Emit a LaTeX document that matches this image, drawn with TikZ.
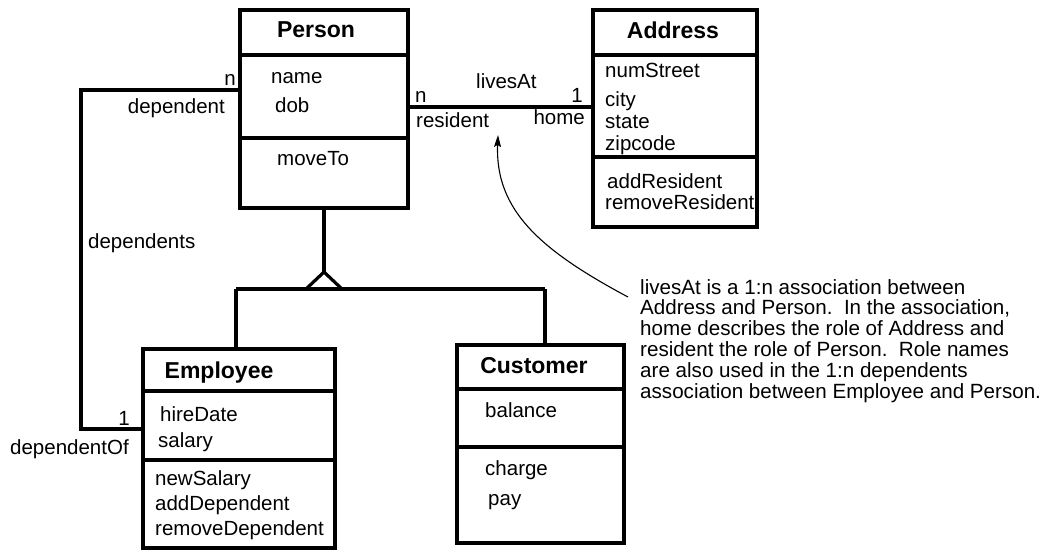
\documentclass[tikz,border=0pt]{standalone}
\usepackage{fontspec}
\setmainfont{Liberation Sans}
\usetikzlibrary{arrows.meta}
\begin{document}
\begin{tikzpicture}[x=1pt,y=-1pt,
  umlbox/.style={draw, line width=3.2pt, inner sep=0pt},
  thick line/.style={line width=3.2pt},
  txt/.style={anchor=base west, inner sep=0pt, font=\fontsize{20.5}{24}\selectfont},
  rtxt/.style={anchor=base east, inner sep=0pt, font=\fontsize{20.5}{24}\selectfont},
  ttl/.style={anchor=base, inner sep=0pt, font=\fontsize{23}{26}\selectfont\bfseries},
  note/.style={anchor=north west, inner sep=0pt, align=left, font=\fontsize{20.6}{20.8}\selectfont}]
\useasboundingbox (0,0) rectangle (1047,550);

% Person
\node[umlbox, minimum width=168pt, minimum height=198pt] (person) at (324,109) {};
\draw[thick line] (person.west |- 0,55) -- (person.east |- 0,55);
\draw[thick line] (person.west |- 0,138) -- (person.east |- 0,138);
\node[ttl] (tperson) at (316,37) {Person};
\node[txt] (pname) at (271,83) {name};
\node[txt] (pdob) at (275,112) {dob};
\node[txt] (pmove) at (277,165) {moveTo};

% Address
\node[umlbox, minimum width=164pt, minimum height=217pt] (address) at (675,118.5) {};
\draw[thick line] (address.west |- 0,55) -- (address.east |- 0,55);
\draw[thick line] (address.west |- 0,157) -- (address.east |- 0,157);
\node[ttl] (taddress) at (673,38) {Address};
\node[txt] (anum) at (605,77) {numStreet};
\node[txt] (acity) at (605,106) {city};
\node[txt] (astate) at (605,128) {state};
\node[txt] (azip) at (605,150) {zipcode};
\node[txt] (aadd) at (607,188) {addResident};
\node[txt] (arem) at (605,209) {removeResident};

% Employee
\node[umlbox, minimum width=192pt, minimum height=199pt] (employee) at (239,448.5) {};
\draw[thick line] (employee.west |- 0,391) -- (employee.east |- 0,391);
\draw[thick line] (employee.west |- 0,460) -- (employee.east |- 0,460);
\node[ttl] (temployee) at (219,378) {Employee};
\node[txt] (ehire) at (160,421) {hireDate};
\node[txt] (esal) at (158,447) {salary};
\node[txt] (enew) at (155,485) {newSalary};
\node[txt] (eadd) at (155,510) {addDependent};
\node[txt] (erem) at (155,535) {removeDependent};

% Customer
\node[umlbox, minimum width=167pt, minimum height=198pt] (customer) at (540.5,444) {};
\draw[thick line] (customer.west |- 0,389) -- (customer.east |- 0,389);
\draw[thick line] (customer.west |- 0,447) -- (customer.east |- 0,447);
\node[ttl] (tcustomer) at (534,373) {Customer};
\node[txt] (cbal) at (485,417) {balance};
\node[txt] (ccharge) at (485,475) {charge};
\node[txt] (cpay) at (488,505) {pay};

% Generalization
\coordinate (apex) at (324,272);
\coordinate (gl) at (236,289);
\coordinate (gr) at (545,289);
\draw[thick line] (person.south) -- (apex);
\draw[thick line, line join=miter] (apex) -- (306,289) -- (342,289) -- cycle;
\draw[thick line] (gl) -- (gr);
\draw[thick line] (gl) -- (gl |- employee.north);
\draw[thick line] (gr) -- (gr |- customer.north);

% dependents loop
\coordinate (lt) at (81,90);
\coordinate (lb) at (81,429);
\draw[thick line] (person.west |- lt) -- (lt) -- (lb) -- (employee.west |- lb);
\node[rtxt] (ln) at (236,85) {n};
\node[rtxt] (ldep) at (225,113) {dependent};
\node[txt] (ldeps) at (88,248) {dependents};
\node[rtxt] (l1) at (130,425) {1};
\node[txt] (ldepof) at (10,454) {dependentOf};

% livesAt
\coordinate (la) at (0,107);
\draw[thick line] (person.east |- la) -- (address.west |- la);
\node[txt] (llives) at (476,88) {livesAt};
\node[txt] (lln) at (415,102) {n};
\node[rtxt] (ll1) at (583,102) {1};
\node[txt] (lres) at (416,127) {resident};
\node[rtxt] (lhome) at (585,124) {home};

% note
\node[note] (notetext) at (640,279) {livesAt is a 1:n association between\\Address and Person.\ \ In the association,\\home describes the role of Address and\\resident the role of Person.\ \ Role names\\are also used in the 1:n dependents\\association between Employee and Person.};
\coordinate (nstart) at (628,297);
\coordinate (ntip) at (498,135);
\draw[line width=1.1pt, -{Stealth[length=12pt,width=7pt,inset=2pt]}] (nstart) .. controls (540,250) and (495,210) .. (ntip);
\end{tikzpicture}
\end{document}
